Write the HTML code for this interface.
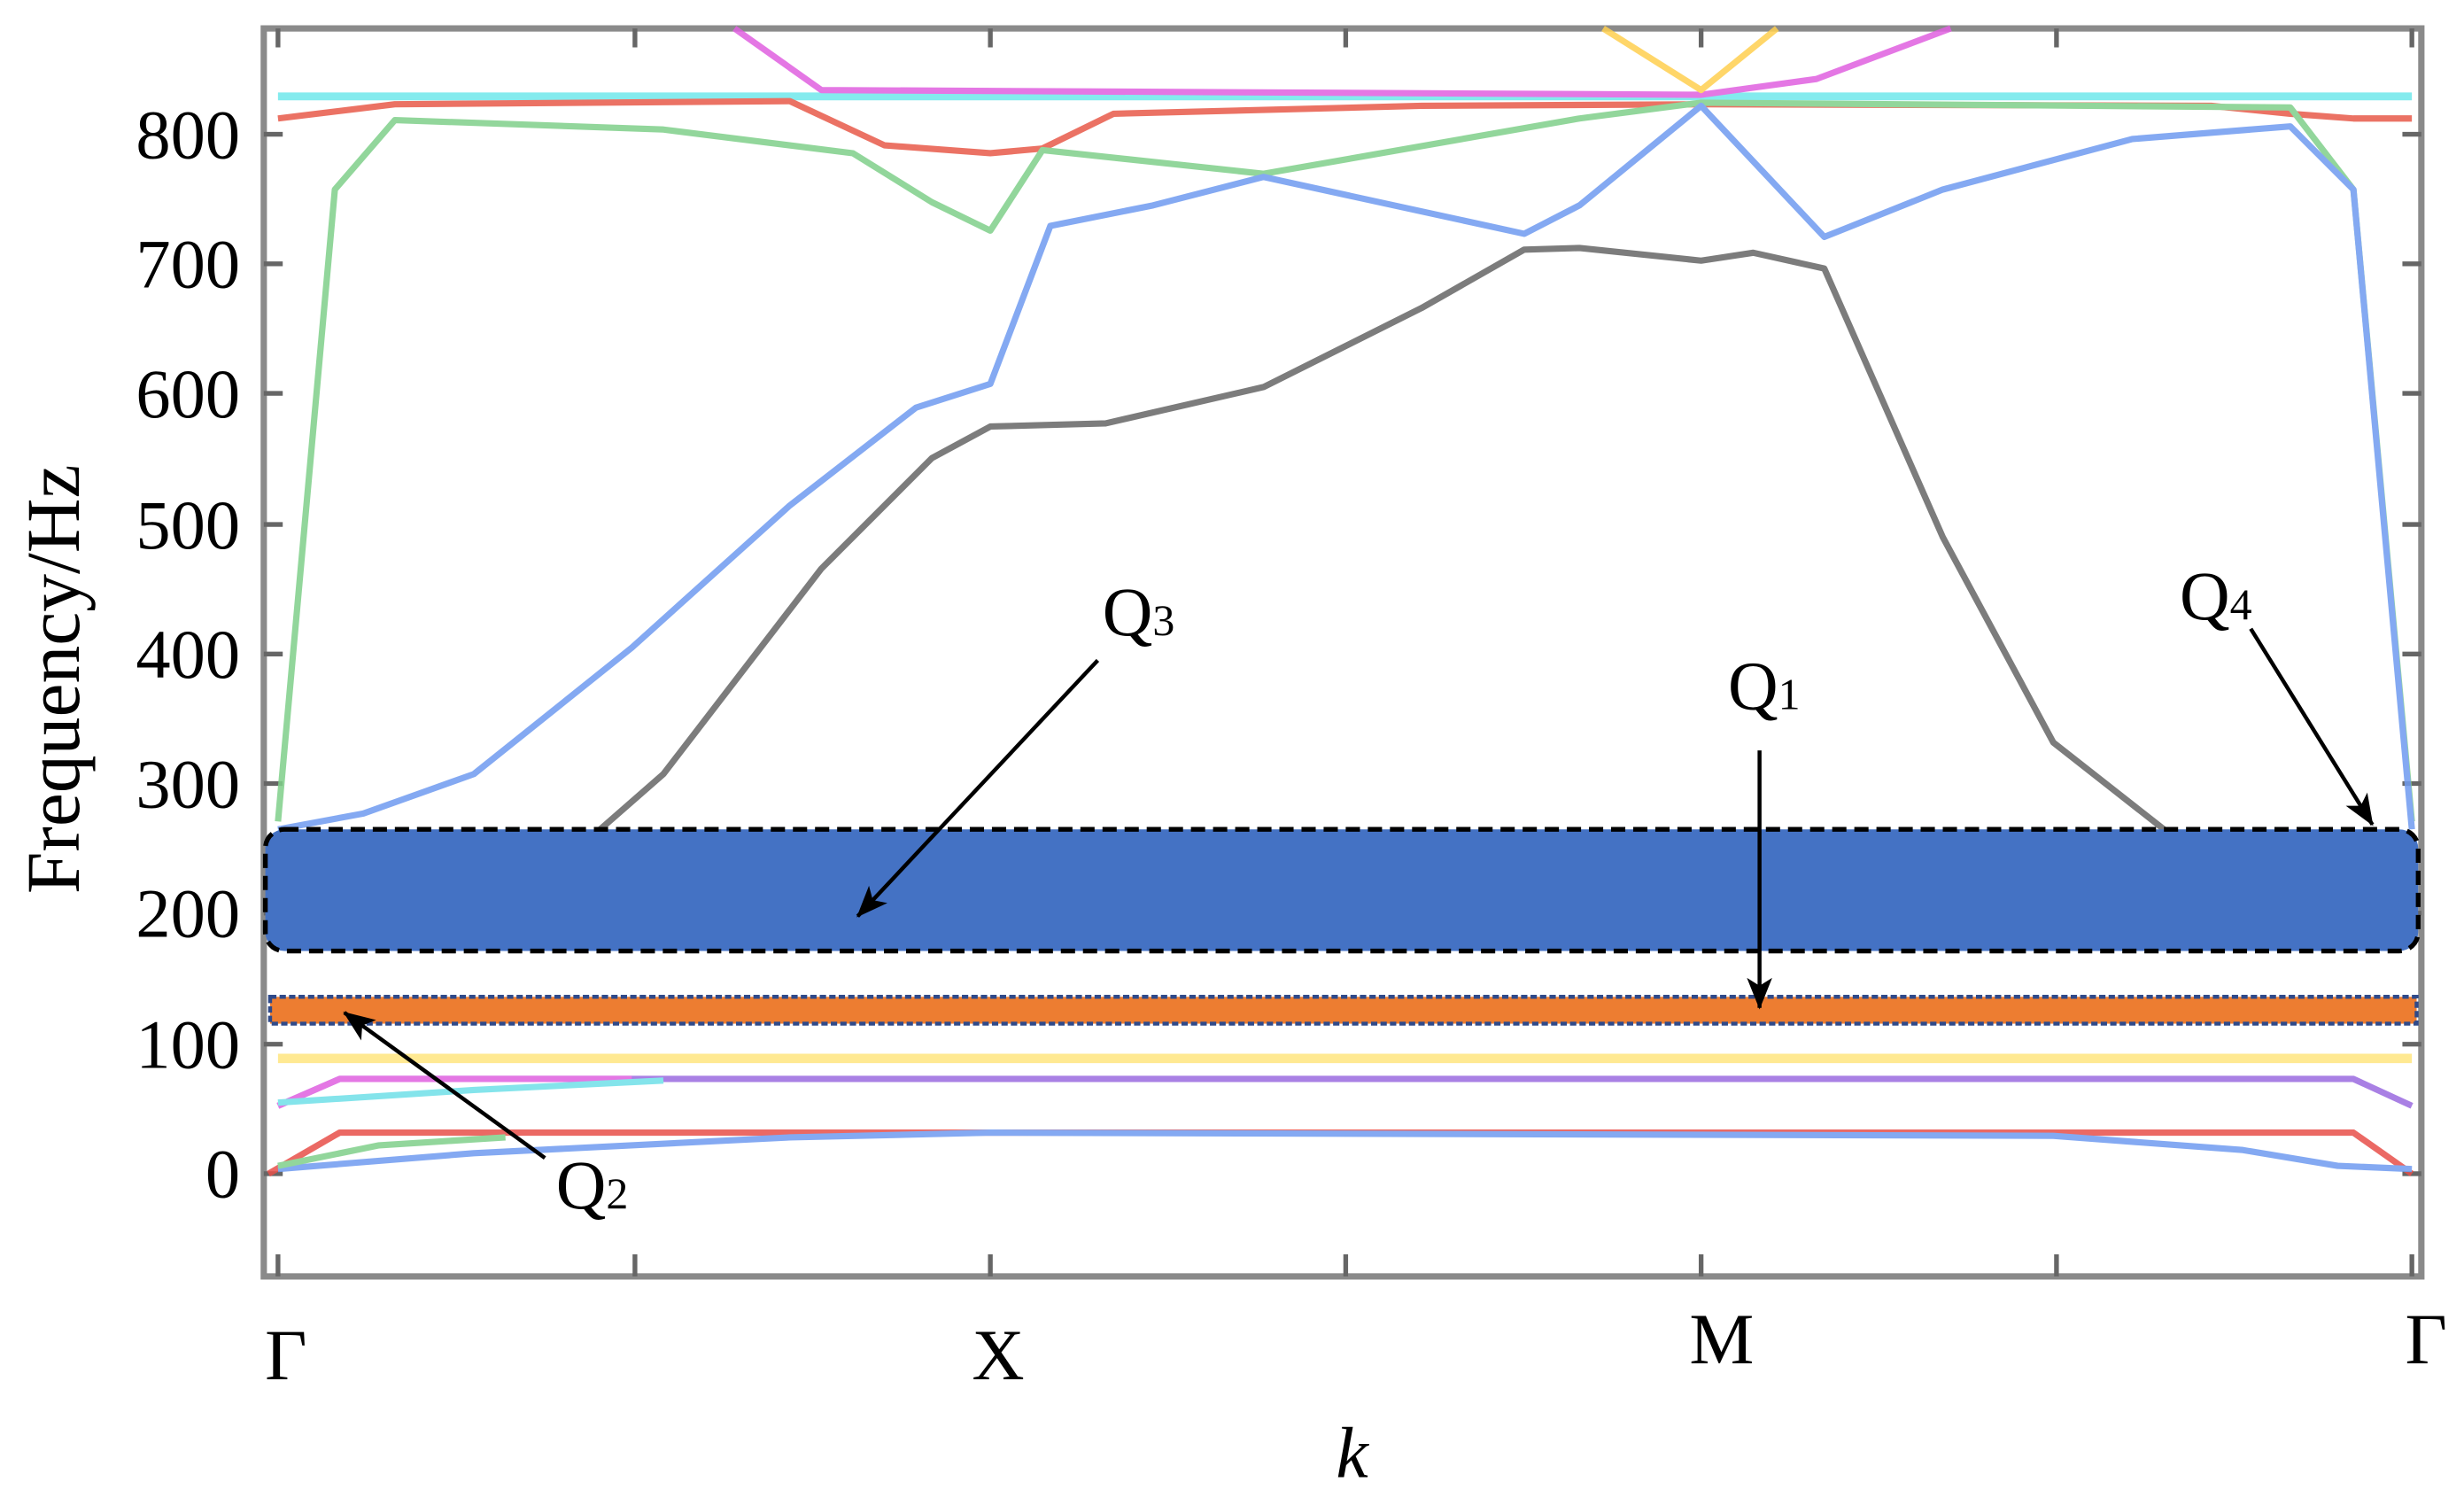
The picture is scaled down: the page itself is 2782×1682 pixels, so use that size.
<!DOCTYPE html>
<html><head><meta charset="utf-8"><style>
html,body{margin:0;padding:0;background:#fff;}
svg{display:block;}
text{font-family:"Liberation Serif",serif;fill:#000;}
</style></head><body>
<svg width="2782" height="1682" viewBox="0 0 1560 943.2" preserveAspectRatio="none" xmlns="http://www.w3.org/2000/svg">
<defs>
<marker id="ah" markerWidth="20" markerHeight="16" refX="19" refY="8" orient="auto" markerUnits="userSpaceOnUse" viewBox="0 0 20 16">
<path d="M0,0 L20,8 L0,16 L5,8 z" fill="#000"/></marker>
</defs>
<rect x="0" y="0" width="1560" height="943.2" fill="#fff"/>
<rect x="167" y="18" width="1366" height="790" fill="none" stroke="#8a8a8a" stroke-width="4"/>
<g stroke="#666" stroke-width="3">
<line x1="176" y1="808" x2="176" y2="794"/><line x1="402" y1="808" x2="402" y2="794"/>
<line x1="627" y1="808" x2="627" y2="794"/><line x1="852" y1="808" x2="852" y2="794"/>
<line x1="1077" y1="808" x2="1077" y2="794"/><line x1="1302" y1="808" x2="1302" y2="794"/>
<line x1="1527" y1="808" x2="1527" y2="794"/>
<line x1="176" y1="18" x2="176" y2="30"/><line x1="402" y1="18" x2="402" y2="30"/>
<line x1="627" y1="18" x2="627" y2="30"/><line x1="852" y1="18" x2="852" y2="30"/>
<line x1="1077" y1="18" x2="1077" y2="30"/><line x1="1302" y1="18" x2="1302" y2="30"/>
<line x1="1527" y1="18" x2="1527" y2="30"/>
</g>
<g stroke="#666" stroke-width="3">
<line x1="167" y1="85" x2="179" y2="85"/><line x1="167" y1="167" x2="179" y2="167"/>
<line x1="167" y1="249" x2="179" y2="249"/><line x1="167" y1="332" x2="179" y2="332"/>
<line x1="167" y1="414" x2="179" y2="414"/><line x1="167" y1="496" x2="179" y2="496"/>
<line x1="167" y1="578" x2="179" y2="578"/><line x1="167" y1="661" x2="179" y2="661"/>
<line x1="167" y1="743" x2="179" y2="743"/>
<line x1="1521" y1="85" x2="1533" y2="85"/><line x1="1521" y1="167" x2="1533" y2="167"/>
<line x1="1521" y1="249" x2="1533" y2="249"/><line x1="1521" y1="332" x2="1533" y2="332"/>
<line x1="1521" y1="414" x2="1533" y2="414"/><line x1="1521" y1="496" x2="1533" y2="496"/>
<line x1="1521" y1="578" x2="1533" y2="578"/><line x1="1521" y1="661" x2="1533" y2="661"/>
<line x1="1521" y1="743" x2="1533" y2="743"/>
</g>
<g font-size="44" text-anchor="end">
<text x="152" y="100">800</text><text x="152" y="182">700</text><text x="152" y="264">600</text>
<text x="152" y="347">500</text><text x="152" y="429">400</text><text x="152" y="511">300</text>
<text x="152" y="593">200</text><text x="152" y="676">100</text><text x="152" y="758">0</text>
</g>
<text font-size="48" text-anchor="middle" transform="translate(50,430) rotate(-90)">Frequency/Hz</text>
<g font-size="46" text-anchor="middle">
<text x="181" y="873">Γ</text><text x="632" y="873">X</text><text x="1090" y="863">M</text><text x="1536" y="863">Γ</text>
<text x="856" y="935" font-style="italic">k</text>
</g>
<g fill="none" stroke-width="4" stroke-linejoin="round" opacity="0.85">
<polyline stroke="#FFE680" stroke-width="6" points="176,670 1527,670"/>
<polyline stroke="#9b6be0" points="176,700 215,683 1490,683 1527,700"/>
<polyline stroke="#e060e0" points="176,700 215,683 400,683"/>
<polyline stroke="#6fe0e8" points="176,698 300,690 420,684"/>
<polyline stroke="#e8504a" points="170,743 215,717 1490,717 1527,743"/>
<polyline stroke="#6f9bf0" points="176,740 300,730 500,720 627,717 1300,719 1420,728 1480,738 1527,740"/>
<polyline stroke="#7fd08a" points="176,738 240,725 320,720"/>
<polyline stroke="#6fe8ec" stroke-width="5" points="176,61 1527,61"/>
<polyline stroke="#e85a4a" points="176,75 250,66 500,64 560,92 627,97 660,94 705,72 900,67 1077,66 1400,67 1450,72 1490,75 1527,75"/>
<polyline stroke="#7fd08a" points="176,520 212,120 250,76 420,82 540,97 590,128 627,146 660,95 800,110 1000,75 1077,65 1450,68 1490,120 1527,520"/>
<polyline stroke="#e060e0" points="465,18 520,57 1077,60 1150,50 1235,18"/>
<polyline stroke="#ffd050" points="1015,18 1077,57 1125,18"/>
<polyline stroke="#6f9bf0" points="176,525 230,515 300,490 400,410 500,320 580,258 627,243 665,143 730,130 800,112 965,148 1000,130 1077,67 1155,150 1230,120 1350,88 1450,80 1490,120 1527,525"/>
<polyline stroke="#666" points="380,525 420,490 520,360 590,290 627,270 700,268 800,245 900,195 965,158 1000,157 1077,165 1110,160 1155,170 1230,340 1300,470 1370,525"/>
</g>
<rect x="168" y="525" width="1363" height="77" rx="12" fill="#4472C4" stroke="#000" stroke-width="3" stroke-dasharray="9,5"/>
<rect x="171" y="631" width="1359" height="17" fill="#ED7D31" stroke="#2F4A8A" stroke-width="2.5" stroke-dasharray="4,2"/>
<g stroke="#000" stroke-width="2.5" marker-end="url(#ah)">
<line x1="695" y1="418" x2="543" y2="580"/>
<line x1="1114" y1="475" x2="1114" y2="638"/>
<line x1="1425" y1="398" x2="1502" y2="522"/>
<line x1="345" y1="733" x2="218" y2="641"/>
</g>
<g font-size="44">
<text x="698" y="402">Q<tspan font-size="28">3</tspan></text>
<text x="1094" y="449">Q<tspan font-size="28">1</tspan></text>
<text x="1380" y="392">Q<tspan font-size="28">4</tspan></text>
<text x="352" y="765">Q<tspan font-size="28">2</tspan></text>
</g>
</svg>
</body></html>
